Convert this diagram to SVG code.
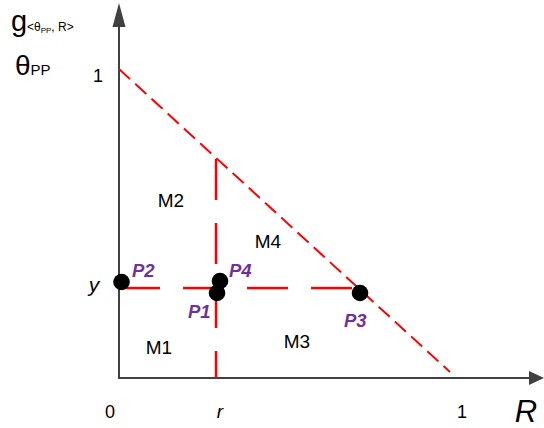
<svg xmlns="http://www.w3.org/2000/svg" width="544" height="428" viewBox="0 0 544 428">
<defs>
<style>
.axis{stroke:#404040;stroke-width:2;fill:none}
.head{fill:#404040}
.diag{stroke:#ff0000;stroke-width:2;fill:none;stroke-dasharray:15 7}
.ldash{stroke:#ff0000;stroke-width:2.5;fill:none;stroke-dasharray:41 23}
.t{font-family:"Liberation Sans",Arial,sans-serif;fill:#000}
.m{font-size:19px}
.p{font-family:"Liberation Sans",Arial,sans-serif;font-size:18.5px;font-weight:bold;font-style:italic;fill:#7030A0}
.dot{fill:#000}
</style>
</defs>
<rect width="544" height="428" fill="#fff"/>
<g id="connectors">
<line class="axis" x1="119" y1="378" x2="119" y2="24"/>
<polygon class="head" points="119,3 112.5,27 125.5,27"/>
<line class="axis" x1="118" y1="378" x2="530" y2="378"/>
<polygon class="head" points="544,378 529,371 529,385"/>
<line class="diag" x1="119" y1="69" x2="450" y2="372"/>
<line class="ldash" x1="216" y1="159" x2="216" y2="378"/>
<line class="ldash" x1="119" y1="288" x2="352" y2="288"/>
</g>
<g id="axis-labels">
<text class="t" x="11" y="31" font-size="29">g</text>
<text class="t" x="27" y="31" font-size="12">&lt;θ<tspan font-size="8" dy="2">PP</tspan><tspan dy="-2">, R&gt;</tspan></text>
<text class="t" x="15" y="75" font-size="28">θ<tspan font-size="15">PP</tspan></text>
<text class="t" x="98" y="82" font-size="18" text-anchor="middle">1</text>
<text class="t" x="94" y="292" font-size="21" font-style="italic" text-anchor="middle">y</text>
<text class="t" x="110" y="418" font-size="18" text-anchor="middle">0</text>
<text class="t" x="220" y="418" font-size="19" font-style="italic" text-anchor="middle">r</text>
<text class="t" x="462" y="418" font-size="18" text-anchor="middle">1</text>
<text class="t" x="526" y="422" font-size="31" font-style="italic" text-anchor="middle">R</text>
</g>
<g id="region-M1"><text class="t m" x="159" y="354" text-anchor="middle">M1</text></g>
<g id="region-M2"><text class="t m" x="171" y="207" text-anchor="middle">M2</text></g>
<g id="region-M3"><text class="t m" x="297" y="348" text-anchor="middle">M3</text></g>
<g id="region-M4"><text class="t m" x="268" y="248" text-anchor="middle">M4</text></g>
<g id="P2"><circle class="dot" cx="121.5" cy="282" r="8.3"/><text class="p" x="132" y="277">P2</text></g>
<g id="P4"><circle class="dot" cx="220" cy="281" r="8.3"/><text class="p" x="229" y="277">P4</text></g>
<g id="P1"><circle class="dot" cx="217" cy="293" r="8.3"/><text class="p" x="188" y="318">P1</text></g>
<g id="P3"><circle class="dot" cx="360" cy="293" r="8.3"/><text class="p" x="344" y="327">P3</text></g>
</svg>
